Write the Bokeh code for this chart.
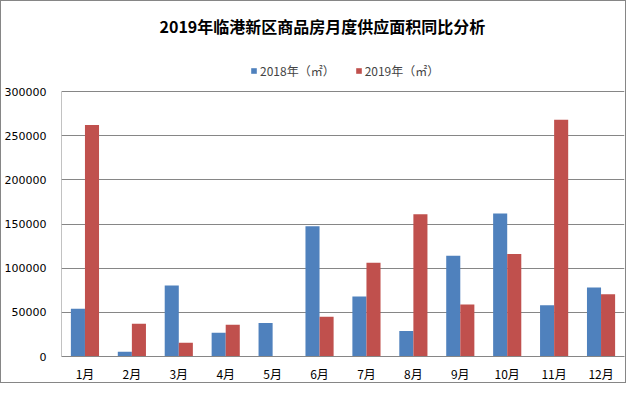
from bokeh.plotting import figure
from bokeh.models import (ColumnDataSource, FactorRange, Range1d, Legend, LegendItem,
                          FixedTicker, NumeralTickFormatter, Label)
from bokeh.transform import dodge
from bokeh.embed import file_html
from bokeh.resources import INLINE

months = ["1月", "2月", "3月", "4月", "5月", "6月", "7月", "8月", "9月", "10月", "11月", "12月"]
y2018 = [54000, 5500, 80500, 27000, 38000, 147500, 68000, 29000, 114000, 162000, 58000, 78000]
y2019 = [262000, 37000, 15500, 36000, 0, 45000, 106000, 161000, 59000, 116000, 268000, 70500]
yticks = [0, 50000, 100000, 150000, 200000, 250000, 300000]
title_text = "2019年临港新区商品房月度供应面积同比分析"
series_names = ["2018年（㎡）", "2019年（㎡）"]
colors = ["#4F81BD", "#C0504D"]

# layout (pixels on the page)
W, H = 626, 383
left, right_pad, bottom_pad = 60, 3, 26
frame_top_px = 1
zero_px = 1 + (H - 2) - bottom_pad
top_tick_px = 91
ymax = yticks[-1]
y_end = ymax * (zero_px - frame_top_px) / (zero_px - top_tick_px)
frame_w = (W - 2) - left - right_pad
cat_w = frame_w / len(months)

src = ColumnDataSource(dict(months=months, y2018=y2018, y2019=y2019))

p = figure(width=W, height=H, x_range=FactorRange(*months), y_range=Range1d(0, y_end),
           output_backend="svg", toolbar_location=None,
           min_border_left=left, min_border_right=right_pad, min_border_bottom=bottom_pad,
           min_border_top=0, styles={"border": "1px solid #868686"})

r1 = p.vbar(x=dodge("months", -0.15, range=p.x_range), top="y2018", width=0.3, source=src,
            fill_color=colors[0], line_color=None)
r2 = p.vbar(x=dodge("months", 0.15, range=p.x_range), top="y2019", width=0.3, source=src,
            fill_color=colors[1], line_color=None)

# left axis line only up to the top tick
p.segment(x0=[0], y0=[0], x1=[0], y1=[ymax], line_color="#868686", line_width=1)

# title inside the (extended) frame
title_x = (320 - left) / cat_w
title_y = ymax * (zero_px - 25) / (zero_px - top_tick_px)
p.add_layout(Label(x=title_x, y=title_y, text=title_text, text_align="center",
                   text_baseline="middle", text_font="Noto Sans CJK SC",
                   text_font_size="16px", text_font_style="bold", text_color="#000000"))

legend = Legend(items=[LegendItem(label=series_names[0], renderers=[r1]),
                       LegendItem(label=series_names[1], renderers=[r2])],
                orientation="horizontal", location=(249 - left, zero_px - 79),
                border_line_color=None, background_fill_alpha=0, padding=0, margin=0,
                spacing=20, glyph_width=7, glyph_height=7, label_standoff=3,
                label_text_font="Noto Sans CJK SC", label_text_font_size="12px",
                label_height=14)
p.add_layout(legend)

p.outline_line_color = None
p.xgrid.grid_line_color = None
p.ygrid.grid_line_color = "#868686"
p.ygrid.grid_line_width = 1

p.yaxis.ticker = FixedTicker(ticks=yticks)
p.yaxis.formatter = NumeralTickFormatter(format="0")
for ax in (p.xaxis, p.yaxis):
    ax.major_tick_line_color = None
    ax.minor_tick_line_color = None
    ax.major_label_text_color = "#000000"
p.xaxis.axis_line_color = "#868686"
p.yaxis.axis_line_color = None
p.yaxis.major_label_text_font = "DejaVu Sans"
p.yaxis.major_label_text_font_size = "11px"
p.yaxis.major_label_standoff = 9
p.xaxis.major_label_text_font = "Noto Sans CJK SC"
p.xaxis.major_label_text_font_size = "12px"
p.xaxis.major_label_standoff = 2

open("out.html", "w").write(file_html(p, INLINE))
